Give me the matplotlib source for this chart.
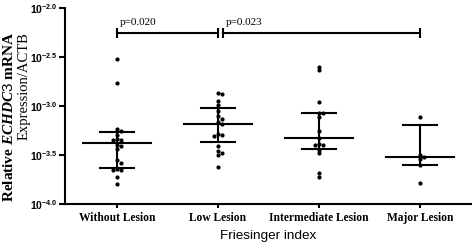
import numpy as np
import matplotlib
matplotlib.use('Agg')
import matplotlib.pyplot as plt

plt.rcParams['mathtext.fontset'] = 'custom'
plt.rcParams['mathtext.rm'] = 'Liberation Sans'
plt.rcParams['mathtext.bf'] = 'Liberation Sans:bold'
plt.rcParams['mathtext.it'] = 'Liberation Serif:italic:bold'

# 数据（log10 表达量，从图中读取）
groups = ['Without Lesion', 'Low Lesion', 'Intermediate Lesion', 'Major Lesion']
without_lesion = [-2.52, -2.765, -3.235, -3.255, -3.30, -3.337, -3.342, -3.342, -3.398,
                  -3.408, -3.439, -3.551, -3.577, -3.638, -3.648, -3.653, -3.724, -3.796]
low_lesion = [-2.867, -2.878, -2.944, -2.990, -3.046, -3.102, -3.133, -3.163, -3.184,
              -3.286, -3.296, -3.306, -3.413, -3.459, -3.480, -3.505, -3.619]
intermediate_lesion = [-2.599, -2.633, -2.964, -3.071, -3.071, -3.112, -3.255, -3.327,
                       -3.388, -3.393, -3.398, -3.449, -3.483, -3.687, -3.721]
major_lesion = [-3.109, -3.500, -3.517, -3.544, -3.602, -3.786]
medians = [-3.374, -3.179, -3.330, -3.517]
upper_q = [-3.262, -3.018, -3.074, -3.194]
lower_q = [-3.630, -3.365, -3.438, -3.602]

# 显著性比较
comp_pairs = [(0, 1), (1, 3)]
p_labels = ['p=0.020', 'p=0.023']
comp_level = -2.258

y_ticks = [-2.0, -2.5, -3.0, -3.5, -4.0]

all_groups = [without_lesion, low_lesion, intermediate_lesion, major_lesion]

fig = plt.figure(figsize=(4.72, 2.48), dpi=100)
ax = fig.add_axes([65 / 472, 44 / 248, 407 / 472, 196 / 248])
ax.set_yscale('log')
ax.set_ylim(1e-4, 1e-2)
ax.set_xlim(-0.515, 3.515)

lw = 1.5


def swarm_offsets(vals, xc):
    """简单的蜂群排布（像素空间）"""
    order = np.argsort(vals)[::-1]
    placed = []
    offs = np.zeros(len(vals))
    step = 4.3
    for i in order:
        py = ax.transData.transform((xc, 10 ** vals[i]))[1]
        k = 0
        cands = [0]
        for j in range(1, 6):
            cands += [j, -j]
        for c in cands:
            px = c * step
            ok = all(np.hypot(px - qx, py - qy) >= 3.2 for qx, qy in placed)
            if ok:
                k = c
                break
        placed.append((k * step, py))
        offs[i] = k * step
    x0 = ax.transData.transform((0, 1e-3))[0]
    x1 = ax.transData.transform((1, 1e-3))[0]
    return offs / (x1 - x0)


for i, vals in enumerate(all_groups):
    vals = np.array(vals)
    xs = i + swarm_offsets(vals, i)
    ax.plot(xs, 10 ** vals, 'o', color='black', markersize=2.0, zorder=3)
    ax.plot([i - 0.337, i + 0.337], [10 ** medians[i]] * 2, color='black', lw=lw, zorder=2)
    for q in (upper_q[i], lower_q[i]):
        ax.plot([i - 0.168, i + 0.168], [10 ** q] * 2, color='black', lw=lw, zorder=2)
    ax.plot([i, i], [10 ** lower_q[i], 10 ** upper_q[i]], color='black', lw=lw, zorder=2)

for k, ((a, b), lab) in enumerate(zip(comp_pairs, p_labels)):
    start = a + (0.05 if k > 0 else 0)
    ax.plot([start, b], [10 ** comp_level] * 2, color='black', lw=lw,
            marker='|', markersize=7, mew=lw)
    ax.text(start + 0.03, 10 ** (comp_level + 0.06), lab, fontsize=8,
            family='Liberation Serif', ha='left', va='bottom')

ax.set_yticks([10 ** t for t in y_ticks])
ax.set_yticklabels([r'$\mathbf{10^{%.1f}}$' % t for t in y_ticks], fontsize=7.5)
ax.yaxis.set_minor_locator(matplotlib.ticker.NullLocator())
ax.set_xticks(range(len(groups)))
ax.set_xticklabels(groups, fontsize=8.3, fontweight='bold', family='Liberation Serif')
ax.tick_params(axis='y', length=4, width=lw, pad=1)
ax.tick_params(axis='x', length=3, width=lw, pad=3)

for s in ['top', 'right']:
    ax.spines[s].set_visible(False)
for s in ['left', 'bottom']:
    ax.spines[s].set_linewidth(lw)

ax.set_xlabel('Friesinger index', fontsize=9.7, family='Liberation Sans', labelpad=4)

fig.text(9 / 472, 1 - 32 / 248, r'Relative $\mathit{ECHDC3}$ mRNA', rotation=90,
         ha='center', va='top', fontsize=11, fontweight='bold', family='Liberation Serif')
fig.text(24 / 472, 1 - 32 / 248, 'Expression/ACTB', rotation=90,
         ha='center', va='top', fontsize=10.5, family='Liberation Serif')

fig.savefig('out.png', dpi=100)
